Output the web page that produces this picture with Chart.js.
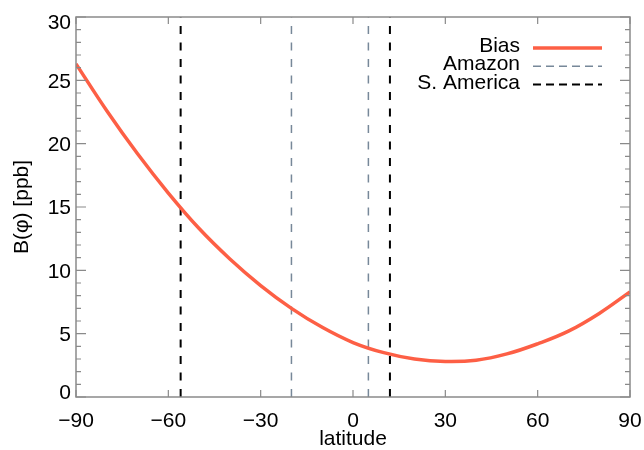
<!DOCTYPE html>
<html>
<head>
<meta charset="utf-8">
<script src="https://cdn.jsdelivr.net/npm/chart.js@4"></script>
<style>
  html, body { margin: 0; padding: 0; background: #fff; }
  #wrap { width: 644px; height: 450px; }
</style>
</head>
<body>
<div id="wrap"><canvas id="chart" width="644" height="450"></canvas></div>
<script>
// values
const latitudes = [-90, -80, -70, -60, -50, -40, -30, -20, -10, 0, 10, 20, 30, 40, 50, 60, 70, 80, 90];
const biasValues = [26.3, 22.6, 19.2, 16.1, 13.3, 10.9, 8.8, 7.0, 5.5, 4.3, 3.5, 3.0, 2.8, 2.9, 3.4, 4.2, 5.2, 6.6, 8.3];
const amazonLats = [-20, 5];
const southAmericaLats = [-56, 12];
const xTicks = [-90, -60, -30, 0, 30, 60, 90];
const yTicks = [0, 5, 10, 15, 20, 25, 30];

const FONT = '"Liberation Sans", Arial, Helvetica, sans-serif';
const FONT_SIZE = 21;
const BIAS_COLOR = '#fd5f45';
const AMAZON_COLOR = '#778899';
const SA_COLOR = '#000000';
const AXIS_COLOR = '#8a8a8a';

// vertical marker lines: two points each, broken by a null gap
function verticalLines(lats) {
    const pts = [];
    lats.forEach((lat, i) => {
        if (i > 0) pts.push({ x: lat, y: null });
        pts.push({ x: lat, y: 0 }, { x: lat, y: 30 });
    });
    return pts;
}

const legendItems = [
    { label: 'Bias', color: BIAS_COLOR, width: 3.5, dash: [] },
    { label: 'Amazon', color: AMAZON_COLOR, width: 1.5, dash: [8, 5] },
    { label: 'S. America', color: SA_COLOR, width: 2, dash: [8, 5] }
];

// frame, inward ticks, y labels (IDL style: end labels pulled inside) and legend
const framePlugin = {
    id: 'frame',
    afterDraw(chart) {
        const { ctx, chartArea: a, scales: { x, y } } = chart;
        ctx.save();
        ctx.strokeStyle = AXIS_COLOR;
        ctx.lineWidth = 1.5;
        ctx.strokeRect(a.left, a.top, a.right - a.left, a.bottom - a.top);

        ctx.lineWidth = 1.2;
        ctx.beginPath();
        xTicks.forEach(v => {
            const px = x.getPixelForValue(v);
            ctx.moveTo(px, a.bottom); ctx.lineTo(px, a.bottom - 7);
            ctx.moveTo(px, a.top); ctx.lineTo(px, a.top + 7);
        });
        for (let v = 0; v <= 30; v++) {
            const py = y.getPixelForValue(v);
            const len = v % 5 === 0 ? 10 : 5;
            ctx.moveTo(a.left, py); ctx.lineTo(a.left + len, py);
            ctx.moveTo(a.right, py); ctx.lineTo(a.right - len, py);
        }
        ctx.stroke();

        ctx.font = FONT_SIZE + 'px ' + FONT;
        ctx.fillStyle = '#000';
        ctx.textAlign = 'right';
        ctx.textBaseline = 'middle';
        yTicks.forEach(v => {
            let shift = 1.5;
            if (v === 30) shift = 6;
            if (v === 0) shift = -4;
            ctx.fillText(String(v), a.left - 5, y.getPixelForValue(v) + shift);
        });

        // legend
        ctx.textBaseline = 'alphabetic';
        legendItems.forEach((item, i) => {
            const base = 52 + i * 18.3;
            ctx.fillText(item.label, 520, base);
            ctx.beginPath();
            ctx.strokeStyle = item.color;
            ctx.lineWidth = item.width;
            ctx.setLineDash(item.dash);
            ctx.moveTo(533, base - 4);
            ctx.lineTo(602, base - 4);
            ctx.stroke();
        });
        ctx.restore();
    }
};

new Chart(document.getElementById('chart'), {
    type: 'line',
    data: {
        datasets: [
            {
                label: 'Bias',
                data: latitudes.map((lat, i) => ({ x: lat, y: biasValues[i] })),
                borderColor: BIAS_COLOR,
                borderWidth: 3.5,
                pointRadius: 0,
                tension: 0.4
            },
            {
                label: 'Amazon',
                data: verticalLines(amazonLats),
                borderColor: AMAZON_COLOR,
                borderWidth: 1.5,
                borderDash: [8, 8.5],
                pointRadius: 0,
                spanGaps: false
            },
            {
                label: 'S. America',
                data: verticalLines(southAmericaLats),
                borderColor: SA_COLOR,
                borderWidth: 2,
                borderDash: [8, 8.5],
                pointRadius: 0,
                spanGaps: false
            }
        ]
    },
    options: {
        responsive: false,
        animation: false,
        layout: { padding: { top: 17, right: 14, left: 0, bottom: 0 } },
        plugins: {
            legend: { display: false },
            tooltip: { enabled: false }
        },
        scales: {
            x: {
                type: 'linear',
                min: -90,
                max: 90,
                afterBuildTicks: s => { s.ticks = xTicks.map(v => ({ value: v })); },
                afterFit: s => {
                    s.height = 53;
                    // keep the plot edge fixed, the end labels may overhang
                    s.paddingLeft = 0;
                    s.paddingRight = 0;
                },
                grid: { display: false, drawTicks: false },
                border: { display: false },
                ticks: {
                    color: '#000',
                    padding: 12,
                    maxRotation: 0,
                    font: { family: FONT, size: FONT_SIZE },
                    callback: v => v < 0 ? '\u2212' + Math.abs(v) : String(v)
                },
                title: {
                    display: true,
                    text: 'latitude',
                    color: '#000',
                    padding: { top: -6, bottom: -2 },
                    font: { family: FONT, size: FONT_SIZE }
                }
            },
            y: {
                min: 0,
                max: 30,
                afterBuildTicks: s => { s.ticks = yTicks.map(v => ({ value: v })); },
                afterFit: s => { s.width = 76; },
                grid: { display: false, drawTicks: false },
                border: { display: false },
                ticks: { display: false },
                title: {
                    display: true,
                    text: 'B(\u03c6) [ppb]',
                    color: '#000',
                    padding: { top: 10, bottom: 0 },
                    font: { family: FONT, size: FONT_SIZE }
                }
            }
        }
    },
    plugins: [framePlugin]
});
</script>
</body>
</html>
